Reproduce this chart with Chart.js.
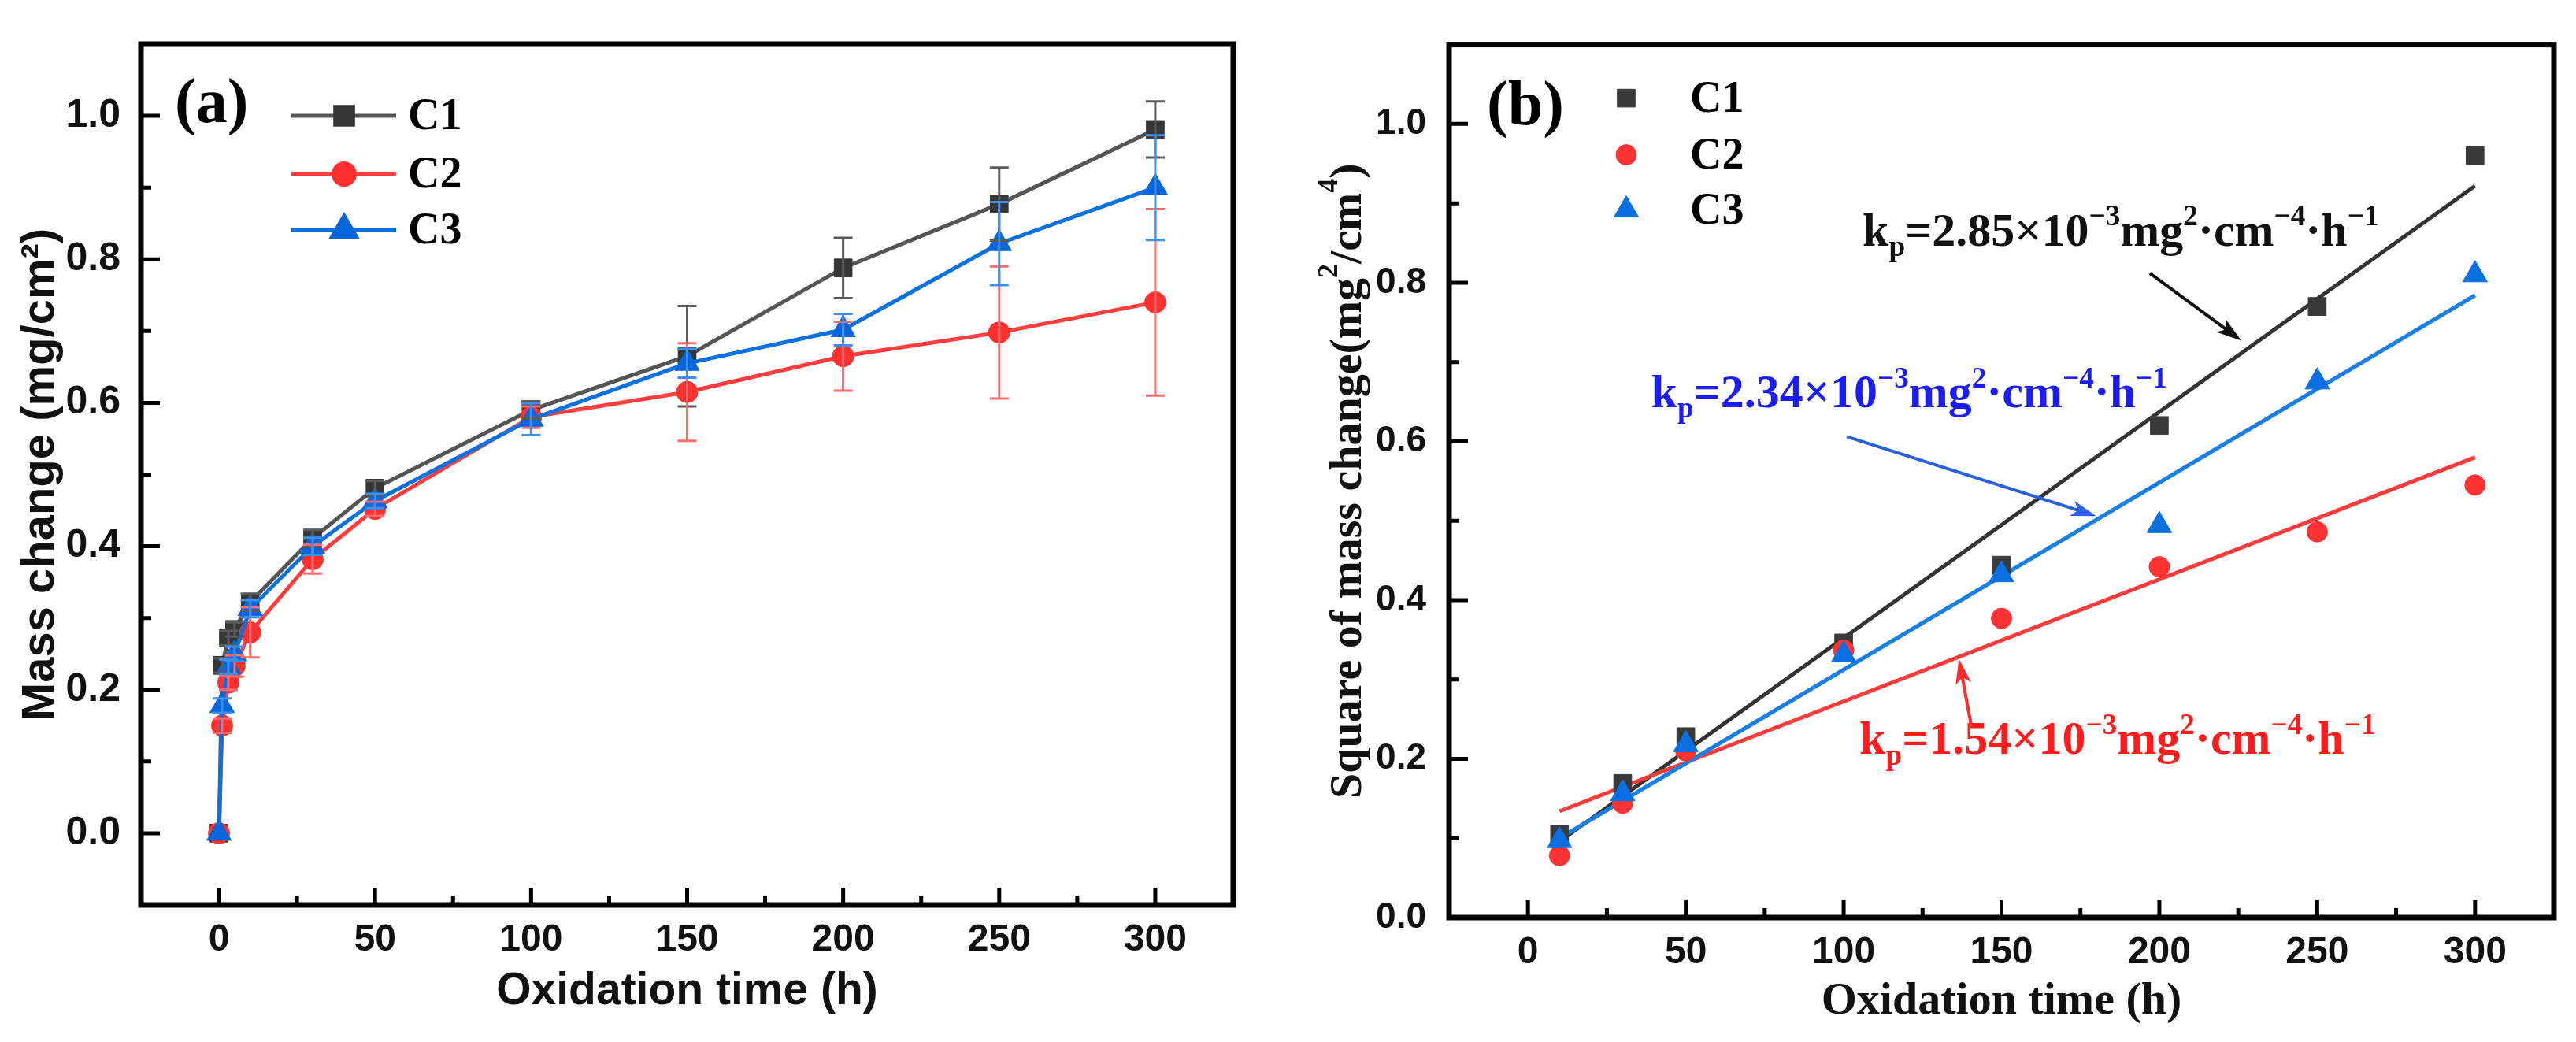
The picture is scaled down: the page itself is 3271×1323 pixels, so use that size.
<!DOCTYPE html>
<html>
<head>
<meta charset="utf-8">
<script src="https://cdn.jsdelivr.net/npm/chart.js@4.4.1/dist/chart.umd.min.js"></script>
<style>
  html, body { margin: 0; padding: 0; background: #fff; }
  #wrap { position: relative; width: 3271px; height: 1323px; background: #fff; }
  canvas { position: absolute; top: 0; }
</style>
</head>
<body>
<div id="wrap">
  <canvas id="chartA" width="1640" height="1323" style="left:0"></canvas>
  <canvas id="chartB" width="1631" height="1323" style="left:1640px"></canvas>
</div>
<script>
// (a) mass change vs oxidation time, mean +/- error
var timeA  = [0, 1, 3, 5, 10, 30, 50, 100, 150, 200, 250, 300];
var massC1 = [0, 0.234, 0.272, 0.284, 0.322, 0.411, 0.481, 0.59, 0.665, 0.788, 0.877, 0.981];
var errC1  = [0, 0.01, 0.01, 0.01, 0.012, 0.012, 0.01, 0.012, 0.07, 0.042, 0.051, 0.039];
var massC2 = [0, 0.15, 0.21, 0.233, 0.28, 0.382, 0.452, 0.58, 0.615, 0.665, 0.698, 0.74];
var errC2  = [0, 0.01, 0.01, 0.015, 0.035, 0.02, 0.01, 0.015, 0.068, 0.048, 0.092, 0.13];
var massC3 = [0, 0.178, 0.232, 0.25, 0.313, 0.4, 0.463, 0.577, 0.655, 0.702, 0.822, 0.9];
var errC3  = [0, 0.01, 0.01, 0.01, 0.012, 0.012, 0.01, 0.022, 0.02, 0.022, 0.058, 0.073];

// (b) square of mass change, with linear fits
var timeB = [10, 30, 50, 100, 150, 200, 250, 300];
var sqC1  = [0.105, 0.169, 0.228, 0.346, 0.444, 0.62, 0.77, 0.96];
var sqC2  = [0.078, 0.144, 0.21, 0.337, 0.377, 0.442, 0.486, 0.545];
var sqC3  = [0.097, 0.156, 0.218, 0.331, 0.432, 0.494, 0.675, 0.81];
var fitX  = [10, 300];
var fitC1 = [0.096, 0.922];
var fitC2 = [0.134, 0.58];
var fitC3 = [0.1, 0.784];
var kpValues = ['2.85', '2.34', '1.54'];

var seriesNames = ['C1', 'C2', 'C3'];
var xTicks  = [0, 50, 100, 150, 200, 250, 300];
var yTicks  = [0, 0.2, 0.4, 0.6, 0.8, 1.0];

var SANS = '"Liberation Sans", Arial, sans-serif';
var SERIF = '"Liberation Serif", "Times New Roman", serif';

function pts(xs, ys) {
  return xs.map(function(x, i) { return {x: x, y: ys[i]}; });
}

function setTicks(list) {
  return function(scale) {
    scale.ticks = list.map(function(v) { return {value: v}; });
  };
}

// inward ticks (major + minor) and the closed frame
var frameTicks = {
  id: 'frameTicks',
  afterDraw: function(chart) {
    var ctx = chart.ctx, a = chart.chartArea;
    var xs = chart.scales.x, ys = chart.scales.y;
    ctx.save();
    ctx.strokeStyle = '#000';
    ctx.lineWidth = 5;
    ctx.beginPath();
    for (var i = 0; i < xTicks.length; i++) {
      var px = xs.getPixelForValue(xTicks[i]);
      ctx.moveTo(px, a.bottom); ctx.lineTo(px, a.bottom - 22);
      if (i < xTicks.length - 1) {
        var mx = xs.getPixelForValue((xTicks[i] + xTicks[i + 1]) / 2);
        ctx.moveTo(mx, a.bottom); ctx.lineTo(mx, a.bottom - 12);
      }
    }
    for (var j = 0; j < yTicks.length; j++) {
      var py = ys.getPixelForValue(yTicks[j]);
      ctx.moveTo(a.left, py); ctx.lineTo(a.left + 24, py);
      if (j < yTicks.length - 1) {
        var my = ys.getPixelForValue((yTicks[j] + yTicks[j + 1]) / 2);
        ctx.moveTo(a.left, my); ctx.lineTo(a.left + 13, my);
      }
    }
    ctx.stroke();
    ctx.lineWidth = 7;
    ctx.strokeRect(a.left, a.top, a.right - a.left, a.bottom - a.top);
    ctx.restore();
  }
};

var errorBars = {
  id: 'errorBars',
  afterDatasetsDraw: function(chart) {
    var ctx = chart.ctx, xs = chart.scales.x, ys = chart.scales.y;
    ctx.save();
    chart.data.datasets.forEach(function(ds) {
      if (!ds.errors) return;
      ctx.strokeStyle = ds.errorColor;
      ctx.lineWidth = 3;
      ctx.beginPath();
      ds.data.forEach(function(p, i) {
        var e = ds.errors[i];
        if (!e) return;
        var x = xs.getPixelForValue(p.x);
        var y1 = ys.getPixelForValue(p.y - e), y2 = ys.getPixelForValue(p.y + e);
        ctx.moveTo(x, y1); ctx.lineTo(x, y2);
        ctx.moveTo(x - 12, y1); ctx.lineTo(x + 12, y1);
        ctx.moveTo(x - 12, y2); ctx.lineTo(x + 12, y2);
      });
      ctx.stroke();
    });
    ctx.restore();
  }
};

function drawRich(ctx, parts, x, y, size) {
  parts.forEach(function(p) {
    var s = p[1] === 'n' ? size : size * 0.62;
    ctx.font = 'bold ' + s + 'px ' + SERIF;
    var dy = p[1] === 'sup' ? -size * 0.42 : (p[1] === 'sub' ? size * 0.22 : 0);
    ctx.fillText(p[0], x, y + dy);
    x += ctx.measureText(p[0]).width;
  });
  return x;
}

function richWidth(ctx, parts, size) {
  var w = 0;
  parts.forEach(function(p) {
    var s = p[1] === 'n' ? size : size * 0.62;
    ctx.font = 'bold ' + s + 'px ' + SERIF;
    w += ctx.measureText(p[0]).width;
  });
  return w;
}

function drawArrow(ctx, x1, y1, x2, y2, color) {
  var ang = Math.atan2(y2 - y1, x2 - x1), head = 32, w = 10;
  ctx.strokeStyle = color; ctx.fillStyle = color; ctx.lineWidth = 4;
  ctx.beginPath();
  ctx.moveTo(x1, y1);
  ctx.lineTo(x2 - Math.cos(ang) * head * 0.7, y2 - Math.sin(ang) * head * 0.7);
  ctx.stroke();
  ctx.beginPath();
  ctx.moveTo(x2, y2);
  ctx.lineTo(x2 - head * Math.cos(ang) + w * Math.sin(ang), y2 - head * Math.sin(ang) - w * Math.cos(ang));
  ctx.lineTo(x2 - head * Math.cos(ang) * 0.75, y2 - head * Math.sin(ang) * 0.75);
  ctx.lineTo(x2 - head * Math.cos(ang) - w * Math.sin(ang), y2 - head * Math.sin(ang) + w * Math.cos(ang));
  ctx.closePath();
  ctx.fill();
}

// panel label and legend drawn in the plot corner
function cornerLegend(opts) {
  return {
    id: 'cornerLegend',
    afterDraw: function(chart) {
      var ctx = chart.ctx, a = chart.chartArea;
      ctx.save();
      ctx.fillStyle = '#000';
      ctx.textBaseline = 'alphabetic';
      ctx.font = 'bold 80px ' + SERIF;
      ctx.fillText(opts.label, a.left + opts.labelX, a.top + opts.labelY);
      chart.data.datasets.forEach(function(ds) {
        if (ds.legendRow === undefined) return;
        var y = a.top + opts.rowY[ds.legendRow];
        var mx = a.left + opts.markerX;
        if (opts.withLine) {
          ctx.strokeStyle = ds.borderColor;
          ctx.lineWidth = 5;
          ctx.beginPath();
          ctx.moveTo(a.left + opts.lineFrom, y); ctx.lineTo(a.left + opts.lineTo, y);
          ctx.stroke();
        }
        ctx.fillStyle = ds.pointBackgroundColor;
        ctx.strokeStyle = ds.pointBackgroundColor;
        Chart.helpers.drawPoint(ctx, {pointStyle: ds.pointStyle, radius: ds.pointRadius, rotation: 0, borderWidth: 1}, mx, y);
        ctx.fillStyle = '#000';
        ctx.textBaseline = 'middle';
        ctx.font = 'bold 56px ' + SERIF;
        ctx.fillText(ds.label, a.left + opts.textX, y + 3);
      });
      ctx.restore();
    }
  };
}

var baseX = {
  type: 'linear', min: -25, max: 325,
  afterBuildTicks: setTicks(xTicks),
  grid: {display: false, drawTicks: false},
  border: {display: false},
  ticks: {color: '#111', font: {family: SANS, size: 48, weight: 'bold'}, padding: 16, maxRotation: 0}
};

var chartA = new Chart(document.getElementById('chartA'), {
  type: 'scatter',
  data: {
    datasets: [
      {label: seriesNames[0], data: pts(timeA, massC1), errors: errC1, errorColor: '#5a5a5a', legendRow: 0,
       showLine: true, borderColor: '#555555', borderWidth: 5, pointStyle: 'rect', pointRadius: 16,
       pointBackgroundColor: '#363636', pointBorderColor: '#363636', pointBorderWidth: 1, order: 2},
      {label: seriesNames[1], data: pts(timeA, massC2), errors: errC2, errorColor: '#ff6a6a', legendRow: 1,
       showLine: true, borderColor: '#ff3d3d', borderWidth: 5, pointStyle: 'circle', pointRadius: 13.5,
       pointBackgroundColor: '#ff3030', pointBorderColor: '#ff3030', pointBorderWidth: 1, order: 1},
      {label: seriesNames[2], data: pts(timeA, massC3), errors: errC3, errorColor: '#3a8ff0', legendRow: 2,
       showLine: true, borderColor: '#0a72e0', borderWidth: 5, pointStyle: 'triangle', pointRadius: 18,
       pointBackgroundColor: '#0866dc', pointBorderColor: '#0866dc', pointBorderWidth: 1, order: 0}
    ]
  },
  options: {
    responsive: false, animation: false, devicePixelRatio: 1,
    layout: {padding: {top: 32, right: 74, left: 0, bottom: 0}},
    plugins: {legend: {display: false}, tooltip: {enabled: false}},
    scales: {
      x: Object.assign({}, baseX, {
        afterFit: function(s) { s.height = 174; },
        title: {display: true, text: 'Oxidation time (h)', color: '#111',
                font: {family: SANS, size: 57, weight: 'bold'}, padding: {top: 0, bottom: 30}}
      }),
      y: {
        type: 'linear', min: -0.1, max: 1.1,
        afterBuildTicks: setTicks(yTicks),
        afterFit: function(s) { s.width = 179; },
        grid: {display: false, drawTicks: false},
        border: {display: false},
        ticks: {color: '#111', font: {family: SANS, size: 50, weight: 'bold'}, padding: 26,
                callback: function(v) { return v.toFixed(1); }},
        title: {display: true, text: 'Mass change (mg/cm²)', color: '#111',
                font: {family: SANS, size: 58, weight: 'bold'}, padding: {top: 17, bottom: 0}}
      }
    }
  },
  plugins: [errorBars, frameTicks,
    cornerLegend({label: '(a)', labelX: 43, labelY: 99, withLine: true, lineFrom: 191, lineTo: 324,
                  markerX: 258, textX: 339, rowY: [91, 165, 236]})]
});

// fit-line annotations of panel (b), placed in data coordinates
var kpNotes = [
  {kp: kpValues[0], color: '#111111', x: 106, y: 0.847, from: [197, 0.812], to: [226, 0.727], arrow: '#111111'},
  {kp: kpValues[1], color: '#1c1cf5', x: 39, y: 0.643, from: [101, 0.606], to: [180, 0.506], arrow: '#2a5fe0'},
  {kp: kpValues[2], color: '#ff1c1c', x: 105, y: 0.206, from: [140.5, 0.24], to: [136.5, 0.326], arrow: '#ff2a2a'}
];

var notesPlugin = {
  id: 'kpNotes',
  afterDraw: function(chart) {
    var ctx = chart.ctx, xs = chart.scales.x, ys = chart.scales.y, a = chart.chartArea;
    ctx.save();
    ctx.textBaseline = 'alphabetic';
    kpNotes.forEach(function(n) {
      ctx.fillStyle = n.color;
      drawRich(ctx, [['k', 'n'], ['p', 'sub'], ['=' + n.kp + '×10', 'n'], ['−3', 'sup'], ['mg', 'n'], ['2', 'sup'],
                     ['·cm', 'n'], ['−4', 'sup'], ['·h', 'n'], ['−1', 'sup']],
               xs.getPixelForValue(n.x), ys.getPixelForValue(n.y), 60);
      drawArrow(ctx, xs.getPixelForValue(n.from[0]), ys.getPixelForValue(n.from[1]),
                xs.getPixelForValue(n.to[0]), ys.getPixelForValue(n.to[1]), n.arrow);
    });
    // rotated y-axis title with superscripts
    var title = [['Square of mass change(mg', 'n'], ['2', 'sup'], ['/cm', 'n'], ['4', 'sup'], [')', 'n']];
    var w = richWidth(ctx, title, 58);
    ctx.translate(a.left - 131, (a.top + a.bottom) / 2);
    ctx.rotate(-Math.PI / 2);
    ctx.fillStyle = '#111';
    ctx.textBaseline = 'middle';
    drawRich(ctx, title, -w / 2, 4, 58);
    ctx.restore();
  }
};

var chartB = new Chart(document.getElementById('chartB'), {
  type: 'scatter',
  data: {
    datasets: [
      {label: 'fitC1', data: pts(fitX, fitC1), showLine: true, borderColor: '#333333', borderWidth: 5, pointRadius: 0, order: 5},
      {label: 'fitC2', data: pts(fitX, fitC2), showLine: true, borderColor: '#ff3b3b', borderWidth: 5, pointRadius: 0, order: 4},
      {label: 'fitC3', data: pts(fitX, fitC3), showLine: true, borderColor: '#1a7fe4', borderWidth: 5, pointRadius: 0, order: 3},
      {label: seriesNames[0], data: pts(timeB, sqC1), legendRow: 0, pointStyle: 'rect', pointRadius: 16,
       pointBackgroundColor: '#3a3a3a', pointBorderColor: '#3a3a3a', pointBorderWidth: 1, order: 2},
      {label: seriesNames[1], data: pts(timeB, sqC2), legendRow: 1, pointStyle: 'circle', pointRadius: 13,
       pointBackgroundColor: '#ff3333', pointBorderColor: '#ff3333', pointBorderWidth: 1, order: 1},
      {label: seriesNames[2], data: pts(timeB, sqC3), legendRow: 2, pointStyle: 'triangle', pointRadius: 18,
       pointBackgroundColor: '#0a6fe0', pointBorderColor: '#0a6fe0', pointBorderWidth: 1, order: 0}
    ]
  },
  options: {
    responsive: false, animation: false, devicePixelRatio: 1,
    layout: {padding: {top: 37, right: 28, left: 0, bottom: 0}},
    plugins: {legend: {display: false}, tooltip: {enabled: false}},
    scales: {
      x: Object.assign({}, baseX, {
        afterFit: function(s) { s.height = 158; },
        title: {display: true, text: 'Oxidation time (h)', color: '#111',
                font: {family: SERIF, size: 58, weight: 'bold'}, padding: {top: 0, bottom: 16}}
      }),
      y: {
        type: 'linear', min: 0, max: 1.1,
        afterBuildTicks: setTicks(yTicks),
        afterFit: function(s) { s.width = 200; },
        grid: {display: false, drawTicks: false},
        border: {display: false},
        ticks: {color: '#111', font: {family: SANS, size: 46, weight: 'bold'}, padding: 29,
                callback: function(v) { return v.toFixed(1); }}
      }
    }
  },
  plugins: [frameTicks, notesPlugin,
    cornerLegend({label: '(b)', labelX: 48, labelY: 101, withLine: false,
                  markerX: 225, textX: 306, rowY: [68, 140, 210]})]
});
</script>
</body>
</html>
